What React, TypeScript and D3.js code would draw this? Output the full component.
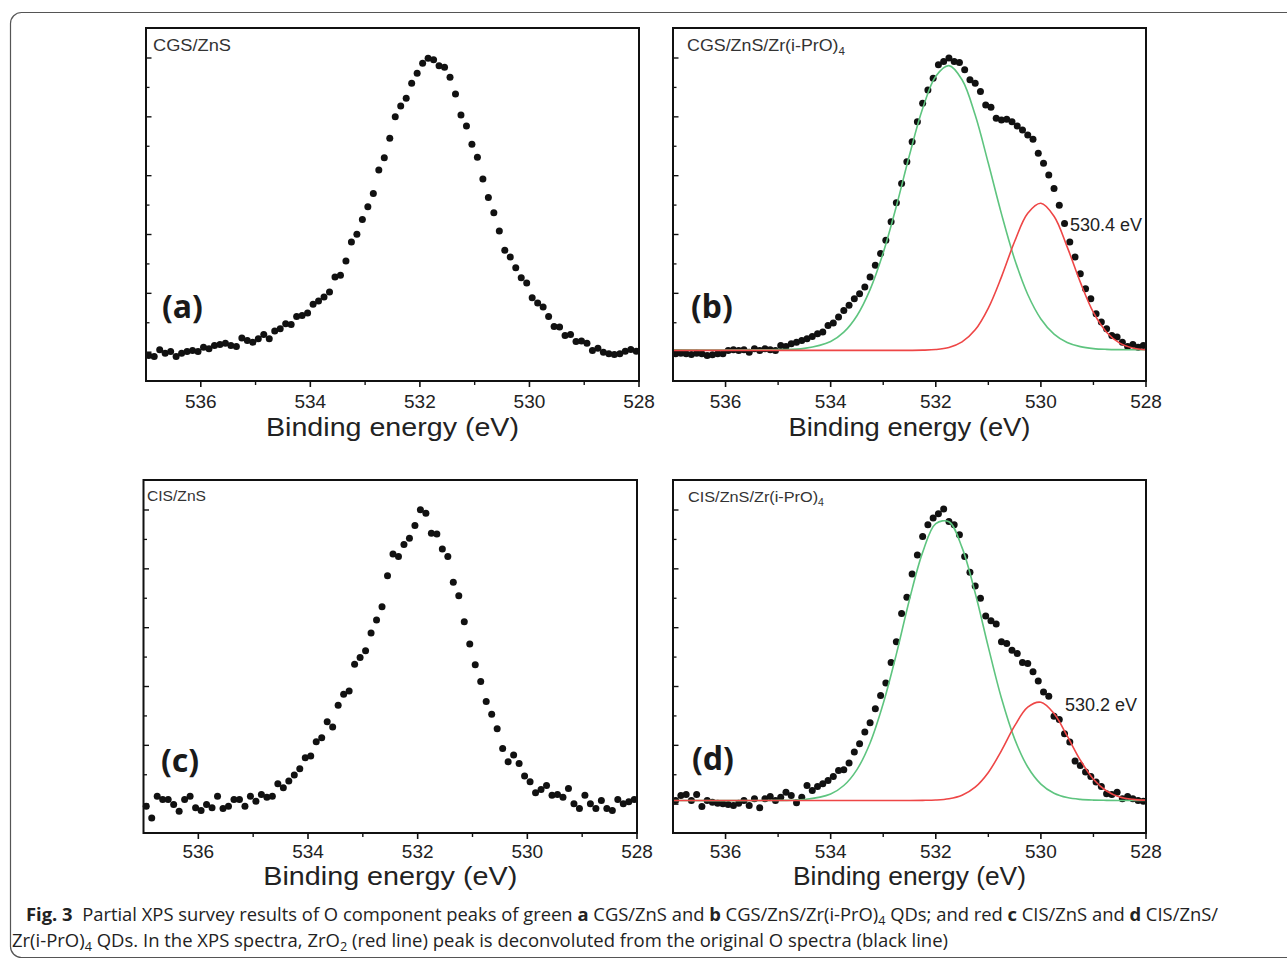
import * as d3 from "d3";

// binding energy grid of the measured points (eV)
const energy = [
  536.95, 536.85, 536.75, 536.65, 536.55, 536.45, 536.35, 536.25, 536.15, 536.05,
  535.95, 535.85, 535.75, 535.65, 535.55, 535.45, 535.35, 535.25, 535.15, 535.05,
  534.95, 534.85, 534.75, 534.65, 534.55, 534.45, 534.35, 534.25, 534.15, 534.05,
  533.95, 533.85, 533.75, 533.65, 533.55, 533.45, 533.35, 533.25, 533.15, 533.05,
  532.95, 532.85, 532.75, 532.65, 532.55, 532.45, 532.35, 532.25, 532.15, 532.05,
  531.95, 531.85, 531.75, 531.65, 531.55, 531.45, 531.35, 531.25, 531.15, 531.05,
  530.95, 530.85, 530.75, 530.65, 530.55, 530.45, 530.35, 530.25, 530.15, 530.05,
  529.95, 529.85, 529.75, 529.65, 529.55, 529.45, 529.35, 529.25, 529.15, 529.05,
  528.95, 528.85, 528.75, 528.65, 528.55, 528.45, 528.35, 528.25, 528.15, 528.05,
];

// O 1s intensities (arb. units)
const intensityA = [
  -0.056, -0.073, 0.04, -0.017, 0.011, -0.073, -0.017, 0.011, 0.028, 0.011,
  0.085, 0.057, 0.114, 0.131, 0.153, 0.114, 0.097, 0.239, 0.199, 0.17,
  0.227, 0.301, 0.227, 0.358, 0.398, 0.483, 0.472, 0.608, 0.625, 0.665,
  0.813, 0.869, 0.937, 1.023, 1.278, 1.306, 1.55, 1.874, 2.005, 2.255,
  2.47, 2.697, 3.095, 3.305, 3.634, 4.003, 4.185, 4.316, 4.571, 4.742,
  4.912, 4.997, 4.969, 4.867, 4.844, 4.674, 4.39, 4.032, 3.845, 3.532,
  3.311, 2.942, 2.629, 2.368, 2.061, 1.732, 1.619, 1.437, 1.267, 1.176,
  0.926, 0.835, 0.767, 0.608, 0.438, 0.426, 0.284, 0.301, 0.182, 0.188,
  0.153, 0.028, 0.068, 0.0, -0.028, -0.04, -0.028, 0.017, 0.045, 0.017,
];
const intensityB = [
  -0.028, -0.017, -0.028, -0.039, -0.017, -0.028, -0.056, -0.045, -0.028, -0.028,
  0.029, 0.04, 0.029, 0.04, 0.0, 0.057, 0.029, 0.057, 0.04, 0.029,
  0.114, 0.097, 0.142, 0.17, 0.199, 0.228, 0.267, 0.313, 0.341, 0.455,
  0.494, 0.596, 0.71, 0.796, 0.909, 0.994, 1.107, 1.278, 1.477, 1.676,
  1.903, 2.215, 2.539, 2.869, 3.237, 3.578, 3.918, 4.231, 4.458, 4.657,
  4.884, 4.941, 4.998, 4.941, 4.924, 4.799, 4.629, 4.572, 4.429, 4.203,
  4.163, 3.975, 3.947, 3.958, 3.918, 3.845, 3.777, 3.692, 3.618, 3.38,
  3.21, 3.01, 2.783, 2.499, 2.187, 1.874, 1.618, 1.335, 1.08, 0.909,
  0.654, 0.511, 0.398, 0.284, 0.256, 0.17, 0.097, 0.131, 0.085, 0.114,
];
const intensityC = [
  -0.034, -0.233, 0.136, 0.08, 0.08, -0.006, -0.119, 0.08, 0.136, -0.062,
  -0.108, -0.006, -0.062, 0.136, -0.074, -0.034, 0.08, 0.08, -0.034, 0.136,
  0.051, 0.165, 0.119, 0.136, 0.346, 0.278, 0.392, 0.494, 0.602, 0.789,
  0.818, 1.062, 1.13, 1.403, 1.312, 1.681, 1.868, 1.925, 2.38, 2.493,
  2.606, 2.908, 3.129, 3.356, 3.884, 4.254, 4.208, 4.412, 4.52, 4.736,
  5.003, 4.946, 4.605, 4.594, 4.339, 4.208, 3.77, 3.543, 3.101, 2.721,
  2.368, 2.084, 1.744, 1.527, 1.283, 0.948, 0.721, 0.835, 0.693, 0.477,
  0.38, 0.193, 0.25, 0.318, 0.153, 0.165, 0.119, 0.267, 0.006, -0.074,
  0.153, 0.006, -0.074, 0.062, -0.074, -0.108, 0.08, 0.006, 0.04, 0.08,
];
const intensityD = [
  0.063, 0.148, 0.165, 0.063, 0.165, -0.039, 0.063, 0.034, 0.017, 0.006,
  -0.005, -0.022, 0.017, 0.063, -0.022, 0.091, -0.062, 0.091, 0.131, 0.063,
  0.119, 0.204, 0.148, 0.023, 0.119, 0.318, 0.233, 0.301, 0.347, 0.403,
  0.471, 0.573, 0.585, 0.698, 0.886, 1.028, 1.227, 1.386, 1.624, 1.846,
  2.061, 2.408, 2.76, 3.243, 3.516, 3.913, 4.237, 4.549, 4.748, 4.862,
  4.935, 5.015, 4.804, 4.748, 4.578, 4.208, 3.942, 3.709, 3.499, 3.198,
  3.118, 3.061, 2.76, 2.733, 2.618, 2.562, 2.408, 2.392, 2.249, 2.095,
  1.908, 1.835, 1.494, 1.438, 1.199, 1.056, 0.733, 0.659, 0.545, 0.471,
  0.375, 0.301, 0.177, 0.165, 0.204, 0.091, 0.131, 0.091, 0.063, 0.051,
];

// deconvoluted components (green: main O peak, red: ZrO2)
const fitEnergy = [
  537, 535, 534.5, 534, 533.75, 533.5, 533.25, 533, 532.75, 532.5, 532.25, 532, 531.75, 531.5,
  531.25, 531, 530.75, 530.5, 530.25, 530, 529.75, 529.5, 529.25, 529, 528.75, 528.5, 528.25, 528,
];
const greenB = [
  0.04, 0.043, 0.065, 0.182, 0.34, 0.62, 1.064, 1.69, 2.48, 3.35, 4.14, 4.69, 4.87, 4.63,
  4.03, 3.21, 2.35, 1.58, 0.98, 0.565, 0.308, 0.165, 0.094, 0.061, 0.048, 0.043, 0.041, 0.04,
];
const redB = [
  0.03, 0.03, 0.03, 0.03, 0.03, 0.03, 0.03, 0.03, 0.03, 0.031, 0.034, 0.045, 0.081, 0.175,
  0.38, 0.75, 1.28, 1.88, 2.36, 2.53, 2.31, 1.79, 1.19, 0.675, 0.34, 0.154, 0.072, 0.042,
];
const greenD = [
  0.063, 0.064, 0.079, 0.174, 0.317, 0.588, 1.04, 1.71, 2.55, 3.48, 4.28, 4.77, 4.8, 4.36,
  3.59, 2.67, 1.8, 1.11, 0.632, 0.342, 0.186, 0.112, 0.081, 0.069, 0.065, 0.063, 0.063, 0.063,
];
const redD = [
  0.063, 0.063, 0.063, 0.063, 0.063, 0.063, 0.063, 0.063, 0.063, 0.063, 0.065, 0.071, 0.093, 0.153,
  0.29, 0.54, 0.91, 1.33, 1.65, 1.732, 1.54, 1.16, 0.75, 0.425, 0.224, 0.122, 0.082, 0.068,
];

const xMajor = [536, 534, 532, 530, 528];
const xMinor = [535, 533, 531, 529];
const yMajor = [0, 1, 2, 3, 4, 5];
const yMinor = [0.5, 1.5, 2.5, 3.5, 4.5];

const GREEN = "#5ec47f";
const RED = "#ee4646";
const AX_FONT = "'Liberation Sans', Arial, sans-serif";

const panels = [
  {
    key: "a", left: 146, right: 639, top: 28, bottom: 381,
    values: intensityA, green: null, red: null,
    name: "CGS/ZnS", sub: "", nameX: 153, nameY: 51, nameSize: 16, nameLen: 78,
    letter: "(a)", letterX: 162, letterY: 318,
    peak: null, titleLen: 253, tickDy: 27, titleDy: 55,
  },
  {
    key: "b", left: 673, right: 1146, top: 28, bottom: 381,
    values: intensityB, green: greenB, red: redB,
    name: "CGS/ZnS/Zr(i-PrO)", sub: "4", nameX: 687, nameY: 51, nameSize: 17, nameLen: 158,
    letter: "(b)", letterX: 691, letterY: 318,
    peak: { text: "530.4 eV", x: 1070, y: 231 }, titleLen: 242, tickDy: 27, titleDy: 55,
  },
  {
    key: "c", left: 143.5, right: 637, top: 480, bottom: 833,
    values: intensityC, green: null, red: null,
    name: "CIS/ZnS", sub: "", nameX: 147, nameY: 501, nameSize: 14.5, nameLen: 59,
    letter: "(c)", letterX: 161, letterY: 772,
    peak: null, titleLen: 254, tickDy: 25, titleDy: 52,
  },
  {
    key: "d", left: 673, right: 1146, top: 480, bottom: 833,
    values: intensityD, green: greenD, red: redD,
    name: "CIS/ZnS/Zr(i-PrO)", sub: "4", nameX: 688, nameY: 502, nameSize: 15.5, nameLen: 136,
    letter: "(d)", letterX: 692, letterY: 770,
    peak: { text: "530.2 eV", x: 1065, y: 711 }, titleLen: 233, tickDy: 25, titleDy: 52,
  },
];

type PanelDef = (typeof panels)[number];

function Panel({ p }: { p: PanelDef }) {
  const x = d3.scaleLinear().domain([537, 528]).range([p.left, p.right]);
  const y = d3.scaleLinear().domain([-0.49, 5.51]).range([p.bottom, p.top]);
  const line = d3
    .line<number>()
    .x((_, i) => x(fitEnergy[i]))
    .y((d) => y(d))
    .curve(d3.curveCatmullRom.alpha(0.5));

  return (
    <g>
      {/* tick marks */}
      {xMajor.map((t) => (
        <line key={"xm" + t} x1={x(t)} x2={x(t)} y1={p.bottom} y2={p.bottom + 6} stroke="#111" strokeWidth={1.6} />
      ))}
      {xMinor.map((t) => (
        <line key={"xn" + t} x1={x(t)} x2={x(t)} y1={p.bottom} y2={p.bottom + 4} stroke="#111" strokeWidth={1.4} />
      ))}
      {yMajor.map((t) => (
        <line key={"ym" + t} x1={p.left} x2={p.left + 5.5} y1={y(t)} y2={y(t)} stroke="#111" strokeWidth={1.4} />
      ))}
      {yMinor.map((t) => (
        <line key={"yn" + t} x1={p.left} x2={p.left + 3.5} y1={y(t)} y2={y(t)} stroke="#111" strokeWidth={1.3} />
      ))}

      {/* measured points */}
      {p.values.map((v, i) => (
        <circle key={i} cx={x(energy[i])} cy={y(v)} r={3.5} fill="#111" />
      ))}

      {p.green && <path d={line(p.green) || ""} fill="none" stroke={GREEN} strokeWidth={1.6} />}
      {p.red && <path d={line(p.red) || ""} fill="none" stroke={RED} strokeWidth={1.6} />}

      {/* frame */}
      <rect x={p.left} y={p.top} width={p.right - p.left} height={p.bottom - p.top} fill="none" stroke="#111" strokeWidth={2} />

      {/* x tick labels */}
      {xMajor.map((t) => (
        <text key={"xl" + t} x={x(t)} y={p.bottom + p.tickDy} textAnchor="middle" fontSize={19} fontFamily={AX_FONT} fill="#222">
          {t}
        </text>
      ))}
      <text
        x={(p.left + p.right) / 2}
        y={p.bottom + p.titleDy}
        textAnchor="middle"
        fontSize={26}
        fontFamily={AX_FONT}
        fill="#222"
        textLength={p.titleLen}
        lengthAdjust="spacingAndGlyphs"
      >
        Binding energy (eV)
      </text>

      {/* sample name */}
      <text x={p.nameX} y={p.nameY} fontSize={p.nameSize} fontFamily={AX_FONT} fill="#333" textLength={p.nameLen} lengthAdjust="spacingAndGlyphs">
        {p.name}
        {p.sub && (
          <tspan dy={4} fontSize={p.nameSize * 0.65}>
            {p.sub}
          </tspan>
        )}
      </text>

      <text x={p.letterX} y={p.letterY} fontSize={32} fontWeight={700} fontFamily="'Noto Sans', 'Open Sans', sans-serif" fill="#1a1a1a">
        {p.letter}
      </text>

      {p.peak && (
        <text x={p.peak.x} y={p.peak.y} fontSize={18} fontFamily={AX_FONT} fill="#222">
          {p.peak.text}
        </text>
      )}
    </g>
  );
}

export default function App() {
  const capFont = "'Open Sans', 'Noto Sans', sans-serif";
  return (
    <svg
      width={1287}
      height={959}
      viewBox="0 0 1287 959"
      style={{ position: "absolute", left: 0, top: 0, background: "#fff" }}
    >
      <rect x={0} y={0} width={1287} height={959} fill="#fff" />
      <rect x={10.5} y={12.5} width={1295} height={945} rx={11} fill="none" stroke="#555" strokeWidth={1.2} />

      {panels.map((p) => (
        <Panel key={p.key} p={p} />
      ))}

      {/* caption */}
      <text x={26} y={921} fontSize={17.5} fontFamily={capFont} fill="#222" textLength={1192} lengthAdjust="spacingAndGlyphs">
        <tspan fontWeight={700}>Fig. 3</tspan>
        {"\u00a0\u00a0Partial XPS survey results of O component peaks of green "}
        <tspan fontWeight={700}>a</tspan>
        {" CGS/ZnS and "}
        <tspan fontWeight={700}>b</tspan>
        {" CGS/ZnS/Zr(i-PrO)"}
        <tspan dy={4} fontSize={12}>4</tspan>
        <tspan dy={-4}>{" QDs; and red "}</tspan>
        <tspan fontWeight={700}>c</tspan>
        {" CIS/ZnS and "}
        <tspan fontWeight={700}>d</tspan>
        {" CIS/ZnS/"}
      </text>
      <text x={12} y={947} fontSize={17.5} fontFamily={capFont} fill="#222" textLength={936} lengthAdjust="spacingAndGlyphs">
        {"Zr(i-PrO)"}
        <tspan dy={4} fontSize={12}>4</tspan>
        <tspan dy={-4}>{" QDs. In the XPS spectra, ZrO"}</tspan>
        <tspan dy={4} fontSize={12}>2</tspan>
        <tspan dy={-4}>{" (red line) peak is deconvoluted from the original O spectra (black line)"}</tspan>
      </text>
    </svg>
  );
}
